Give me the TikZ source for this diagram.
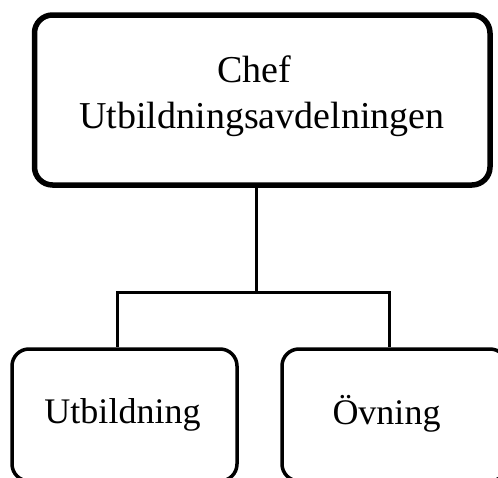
\documentclass[tikz,border=0pt]{standalone}
\usepackage{fontspec}
\setmainfont{Liberation Serif}
\begin{document}
\begin{tikzpicture}[x=1pt,y=-1pt,
  chefbox/.style={draw=black,line width=5.5pt,rounded corners=18pt,minimum width=455.5pt,minimum height=170pt,inner sep=0pt},
  unitbox/.style={draw=black,line width=3.5pt,rounded corners=17pt,minimum width=225pt,minimum height=132pt,inner sep=0pt},
  bigtext/.style={font=\fontsize{38}{46}\selectfont,inner sep=0pt,anchor=base},
  unittext/.style={font=\fontsize{36}{43}\selectfont,inner sep=0pt,anchor=base},
  link/.style={draw=black,line width=3pt}]
\useasboundingbox (0,0) rectangle (498,477);
\clip (0,0) rectangle (498,477);
\node[chefbox] (chef) at (262.25,100) {};
\node[bigtext] (cheft1) at (254,82) {Chef};
\node[bigtext] (cheft2) at (262,128) {Utbildningsavdelningen};
\node[unitbox] (utb) at (124.5,415) {};
\node[unitbox] (ovn) at (394.5,415) {};
\node[unittext] (utbt) at (122.5,423) {Utbildning};
\node[unittext] (ovnt) at (386.5,424) {Övning};
\coordinate (j) at (256.7,292.5);
\coordinate (jl) at (117,292.5);
\coordinate (jr) at (389.5,292.5);
\draw[link] (chef.south -| j) -- (j);
\draw[link,line cap=rect] (jl) -- (jr);
\draw[link] (jl) -- (jl |- utb.north);
\draw[link] (jr) -- (jr |- ovn.north);
\end{tikzpicture}
\end{document}
